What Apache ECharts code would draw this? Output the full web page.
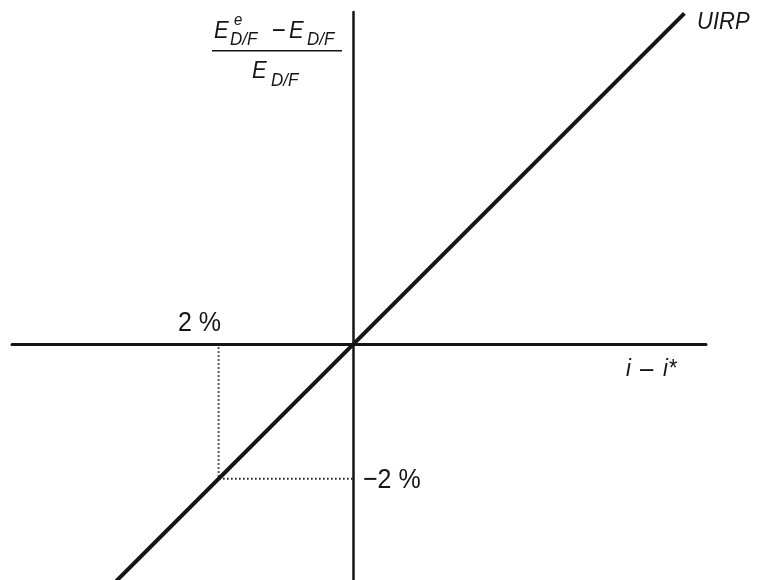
<!DOCTYPE html>
<html>
<head>
<meta charset="utf-8">
<script src="https://cdn.jsdelivr.net/npm/echarts@6/dist/echarts.min.js"></script>
<style>
  html, body { margin: 0; padding: 0; background: #fff; }
  #chart { width: 759px; height: 580px; }
</style>
</head>
<body>
<div id="chart"></div>
<script>
// axis extents in percentage points (origin where the axes cross)
const xRange = [-5.06, 5.22];
const yRange = [-3.5, 4.92];

// UIRP line: expected depreciation equals the interest differential
const uirpPoints = [[-3.6, -3.6], [4.9, 4.9]];

// dotted guide from the 2% point to both axes
const guidePoints = [[-2, -0.05], [-2, -2], [0, -2]];

const INK = "#151515";
const FONT = "'Liberation Sans', Arial, Helvetica, sans-serif";

const chart = echarts.init(document.getElementById("chart"));

const txt = (left, top, text, size, italic) => ({
  type: "text",
  left, top,
  scaleY: 1.12,
  style: {
    text,
    fill: INK,
    font: `${italic ? "italic " : ""}${size}px ${FONT}`
  }
});

chart.setOption({
  animation: false,
  grid: { left: 12, right: 53, top: 12, bottom: 0 },
  xAxis: {
    type: "value",
    min: xRange[0],
    max: xRange[1],
    axisLine: { onZero: true, lineStyle: { color: INK, width: 3 } },
    axisTick: { show: false },
    axisLabel: { show: false },
    splitLine: { show: false }
  },
  yAxis: {
    type: "value",
    min: yRange[0],
    max: yRange[1],
    axisLine: { onZero: true, lineStyle: { color: INK, width: 2.5 } },
    axisTick: { show: false },
    axisLabel: { show: false },
    splitLine: { show: false }
  },
  series: [
    {
      type: "line",
      data: guidePoints,
      symbol: "none",
      lineStyle: { color: "#222", width: 2, type: [1.6, 2.4] },
      z: 1
    },
    {
      type: "line",
      data: uirpPoints,
      symbol: "none",
      clip: true,
      lineStyle: { color: INK, width: 4 },
      z: 3
    }
  ],
  graphic: [
    // numerator: E^e_{D/F} - E_{D/F}
    txt(214, 19, "E", 22, true),
    txt(234, 12, "e", 15, true),
    txt(230, 30, "D/F", 17, true),
    txt(272, 18, "\u2212", 24, false),
    txt(289, 19, "E", 22, true),
    txt(307, 30, "D/F", 17, true),
    {
      type: "rect",
      shape: { x: 212, y: 50, width: 130, height: 1.6 },
      style: { fill: INK }
    },
    // denominator
    txt(252, 59, "E", 22, true),
    txt(271, 71, "D/F", 17, true),
    // labels
    txt(697, 10, "UIRP", 22, true),
    txt(626, 357, "i", 22, true),
    txt(640, 356, "\u2013", 24, false),
    txt(663, 357, "i*", 22, true),
    txt(178, 309, "2 %", 25, false),
    txt(363, 466, "\u22122 %", 25, false)
  ]
});
</script>
</body>
</html>
